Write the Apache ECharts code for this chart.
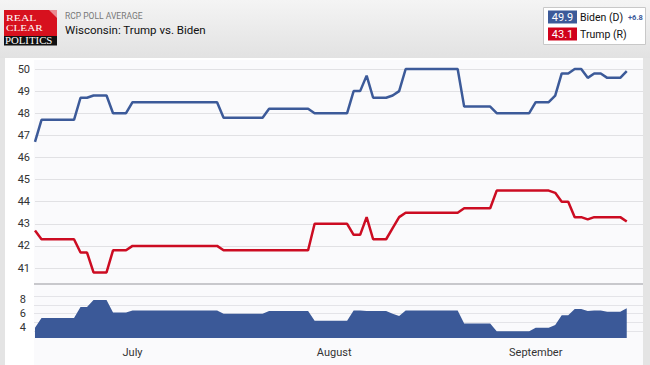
<!DOCTYPE html>
<html><head><meta charset="utf-8">
<script src="https://cdn.jsdelivr.net/npm/echarts@6/dist/echarts.min.js"></script>
<style>html,body{margin:0;padding:0;background:#e4e4e4;}#c{width:650px;height:365px;}</style>
</head><body><div id="c"></div>
<script>
// Daily RCP averages, Jun 16 (index 0) .. Sep 15 (index 91)
const biden = [46.7,
  47.7,47.7,47.7,47.7,47.7,47.7,
  48.7,48.7, 48.8,48.8,48.8, 48.0,48.0,48.0,
  48.5,48.5,48.5,48.5,48.5,48.5,48.5,48.5,48.5,48.5,48.5,48.5,48.5,48.5,
  47.8,47.8,47.8,47.8,47.8,47.8,47.8,
  48.2,48.2,48.2,48.2,48.2,48.2,48.2,
  48.0,48.0,48.0,48.0,48.0,48.0,
  49.0,49.0, 49.7, 48.7,48.7,48.7, 48.8, 49.0,
  50.0,50.0,50.0,50.0,50.0,50.0,50.0,50.0,50.0,
  48.3,48.3,48.3,48.3,48.3,
  48.0,48.0,48.0,48.0,48.0,48.0,
  48.5,48.5,48.5, 48.8, 49.8,49.8, 50.0,50.0, 49.6, 49.8,49.8, 49.6,49.6,49.6, 49.9];
const trump = [42.7,
  42.3,42.3,42.3,42.3,42.3,42.3,
  41.7,41.7, 40.8,40.8,40.8, 41.8,41.8,41.8,
  42.0,42.0,42.0,42.0,42.0,42.0,42.0,42.0,42.0,42.0,42.0,42.0,42.0,42.0,
  41.8,41.8,41.8,41.8,41.8,41.8,41.8,41.8,41.8,41.8,41.8,41.8,41.8,41.8,
  43.0,43.0,43.0,43.0,43.0,43.0,
  42.5,42.5, 43.3, 42.3,42.3,42.3, 42.8, 43.3,
  43.5,43.5,43.5,43.5,43.5,43.5,43.5,43.5,43.5,
  43.7,43.7,43.7,43.7,43.7,
  44.5,44.5,44.5,44.5,44.5,44.5,44.5,44.5,44.5,
  44.4, 44.0,44.0, 43.3,43.3, 43.2, 43.3,43.3,43.3,43.3,43.3, 43.1];
const spread = [4.0,
  5.4,5.4,5.4,5.4,5.4,5.4,
  7.0,7.0, 8.0,8.0,8.0, 6.2,6.2,6.2,
  6.5,6.5,6.5,6.5,6.5,6.5,6.5,6.5,6.5,6.5,6.5,6.5,6.5,6.5,
  6.0,6.0,6.0,6.0,6.0,6.0,6.0,
  6.4,6.4,6.4,6.4,6.4,6.4,6.4,
  5.0,5.0,5.0,5.0,5.0,5.0,
  6.5,6.5, 6.4, 6.4,6.4,6.4, 6.0, 5.7,
  6.5,6.5,6.5,6.5,6.5,6.5,6.5,6.5,6.5,
  4.6,4.6,4.6,4.6,4.6,
  3.5,3.5,3.5,3.5,3.5,3.5,
  4.0,4.0,4.0, 4.4, 5.8,5.8, 6.7,6.7, 6.4, 6.5,6.5, 6.3,6.3,6.3, 6.8];
const monthLabels = ['July', 'August', 'September'];
const monthStartIdx = [15, 46, 77];
const spreadTickLabels = [4, 6, 8];
const legendNames = ['Biden (D)', 'Trump (R)'];
const legendValues = ['49.9', '43.1'];
const leadText = '+6.8';
const logoWords = ['REAL', 'CLEAR', 'POLITICS'];
const titleSmall = 'RCP POLL AVERAGE';
const titleMain = 'Wisconsin: Trump vs. Biden';

const BLUE = '#3c5a99', RED = '#cc0c22', FONT = 'Roboto, "Liberation Sans", sans-serif';
const SERIF = '"Liberation Serif", "DejaVu Serif", serif';
const XMAX = 93.5;
const toPairs = arr => arr.map((v, i) => [i, v]);

const chart = echarts.init(document.getElementById('c'), null, {renderer: 'svg'});
chart.setOption({
  animation: false,
  textStyle: {fontFamily: FONT},
  grid: [
    {left: 35, right: 7, top: 69, bottom: 97},
    {left: 35, right: 7, top: 289.6, bottom: 26.9},
    {left: 34, right: 7, top: 296, bottom: 34}
  ],
  xAxis: [
    {type: 'value', gridIndex: 0, min: 0, max: XMAX, show: false},
    {type: 'value', gridIndex: 1, min: 0, max: XMAX, interval: 1,
      axisLine: {show: false}, axisTick: {show: false}, splitLine: {show: false},
      axisLabel: {margin: 9, fontSize: 11, color: '#333', showMaxLabel: false,
        formatter: v => { const k = monthStartIdx.indexOf(v); return k >= 0 ? monthLabels[k] : ''; }}},
    {type: 'value', gridIndex: 2, min: 0, max: XMAX, show: false}
  ],
  yAxis: [
    {type: 'value', gridIndex: 0, min: 41, max: 50, interval: 1,
      axisLine: {show: false}, axisTick: {show: false},
      splitLine: {lineStyle: {color: '#e1e1e4', width: 1}},
      axisLabel: {margin: 5, fontSize: 11, color: '#333'}},
    {type: 'value', gridIndex: 1, min: 2.5, max: 9.5, interval: 0.5,
      axisLine: {show: false}, axisTick: {show: false}, splitLine: {show: false},
      axisLabel: {margin: 9, fontSize: 11, color: '#333',
        formatter: v => spreadTickLabels.indexOf(v) >= 0 ? String(v) : ''}},
    {type: 'value', gridIndex: 2, min: 1, max: 5, interval: 1,
      axisLine: {show: false}, axisTick: {show: false}, axisLabel: {show: false},
      splitLine: {lineStyle: {color: '#e4e4e8', width: 1}}}
  ],
  series: [
    {type: 'line', name: 'Biden', xAxisIndex: 0, yAxisIndex: 0, data: toPairs(biden),
      showSymbol: false, clip: false, lineStyle: {color: BLUE, width: 2.5}, z: 3},
    {type: 'line', name: 'Trump', xAxisIndex: 0, yAxisIndex: 0, data: toPairs(trump),
      showSymbol: false, clip: false, lineStyle: {color: RED, width: 2.5}, z: 3},
    {type: 'line', name: 'Spread', xAxisIndex: 1, yAxisIndex: 1, data: toPairs(spread),
      showSymbol: false, lineStyle: {width: 0, color: BLUE},
      areaStyle: {color: '#3b5998', opacity: 1, origin: 'start'}, z: 3}
  ],
  graphic: [
    {type: 'rect', z: -10, shape: {x: 0, y: 0, width: 650, height: 58},
      style: {fill: new echarts.graphic.LinearGradient(0, 0, 0, 1, [{offset: 0, color: '#f4f4f4'}, {offset: 1, color: '#e2e2e2'}])}},
    {type: 'rect', z: -10, shape: {x: 5, y: 58, width: 638, height: 307}, style: {fill: '#ffffff'}},
    {type: 'rect', z: -9, shape: {x: 34, y: 60, width: 609, height: 305}, style: {fill: '#fafafc'}},
    {type: 'rect', z: 5, shape: {x: 34, y: 283, width: 609, height: 2}, style: {fill: '#c8c8cc'}},
    // logo
    {type: 'rect', z: 10, shape: {x: 4, y: 10, width: 53, height: 26}, style: {fill: '#d7111e'}},
    {type: 'polygon', z: 11, shape: {points: [[49, 10], [57, 10], [57, 18]]}, style: {fill: '#ea8a90'}},
    {type: 'rect', z: 10, shape: {x: 4, y: 36, width: 53, height: 9.5}, style: {fill: '#111'}},
    {type: 'text', z: 12, x: 6, y: 17.5, scaleX: 1.3, style: {text: logoWords[0], fill: '#fff', font: '9px ' + SERIF, textVerticalAlign: 'middle'}},
    {type: 'text', z: 12, x: 6, y: 27.5, scaleX: 1.25, style: {text: logoWords[1], fill: '#fff', font: '9px ' + SERIF, textVerticalAlign: 'middle'}},
    {type: 'text', z: 12, x: 5, y: 41, scaleX: 1.08, style: {text: logoWords[2], fill: '#fff', font: '10px ' + SERIF, textVerticalAlign: 'middle'}},
    // titles
    {type: 'text', z: 12, x: 65, y: 15.5, style: {text: titleSmall, fill: '#777', font: '8.5px ' + FONT, textVerticalAlign: 'middle'}},
    {type: 'text', z: 12, x: 65, y: 29.5, style: {text: titleMain, fill: '#111', font: '11.5px ' + FONT, textVerticalAlign: 'middle'}},
    // legend box
    {type: 'rect', z: 10, shape: {x: 543.5, y: 7.5, width: 102, height: 37}, style: {fill: '#fff', stroke: '#c8c8c8', lineWidth: 1}},
    {type: 'rect', z: 11, shape: {x: 548, y: 10.5, width: 29, height: 13}, style: {fill: BLUE}},
    {type: 'rect', z: 11, shape: {x: 548, y: 27.5, width: 29, height: 13}, style: {fill: '#d0021b'}},
    {type: 'text', z: 12, x: 562.5, y: 17, style: {text: legendValues[0], fill: '#fff', font: '11px ' + FONT, textAlign: 'center', textVerticalAlign: 'middle'}},
    {type: 'text', z: 12, x: 562.5, y: 34, style: {text: legendValues[1], fill: '#fff', font: '11px ' + FONT, textAlign: 'center', textVerticalAlign: 'middle'}},
    {type: 'text', z: 12, x: 580, y: 17, style: {text: legendNames[0], fill: '#111', font: '10.5px ' + FONT, textVerticalAlign: 'middle'}},
    {type: 'text', z: 12, x: 580, y: 34, style: {text: legendNames[1], fill: '#111', font: '10.5px ' + FONT, textVerticalAlign: 'middle'}},
    {type: 'text', z: 12, x: 628, y: 17.5, style: {text: leadText, fill: BLUE, font: 'bold 7.5px ' + FONT, textVerticalAlign: 'middle'}}
  ]
});
</script></body></html>
